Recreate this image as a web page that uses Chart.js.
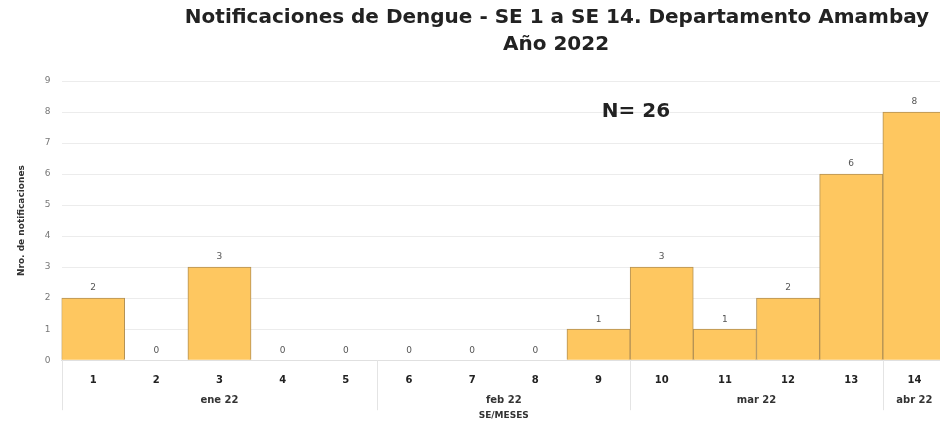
<!DOCTYPE html>
<html>
<head>
<meta charset="utf-8">
<script src="https://cdn.jsdelivr.net/npm/chart.js@4.4.0/dist/chart.umd.min.js"></script>
<style>
  html, body { margin: 0; background: #fff; overflow: hidden; }
  /* el grafico original esta recortado por la derecha */
  #wrap { width: 946px; height: 423px; position: relative; }
</style>
</head>
<body>
<div id="wrap"><canvas id="my_graph"></canvas></div>
<script>
// semanas epidemiologicas y casos
let semanas = ['1', '2', '3', '4', '5', '6', '7', '8', '9', '10', '11', '12', '13', '14'];
let casos = [2, 0, 3, 0, 0, 0, 0, 0, 1, 3, 1, 2, 6, 8];
// meses: etiqueta, primera y ultima semana (indice)
let meses = ['ene 22', 'feb 22', 'mar 22', 'abr 22'];
let mes_desde = [0, 5, 9, 13];
let mes_hasta = [4, 8, 12, 13];
let y_ticks = [0, 1, 2, 3, 4, 5, 6, 7, 8, 9];

let titulo = ['Notificaciones de Dengue - SE 1 a SE 14. Departamento Amambay', 'Año 2022'];
let total_txt = 'N= 26';

const FONT = "'DejaVu Sans', Verdana, sans-serif";

// titulo y N= dibujados a mano (el titulo no esta centrado en el canvas)
const textos = {
    id: 'textos',
    afterDraw(chart) {
        const c = chart.ctx;
        c.save();
        c.fillStyle = '#222';
        c.textAlign = 'center';
        c.textBaseline = 'middle';
        c.font = 'bold 20px ' + FONT;
        c.fillText(titulo[0], 557, 18);
        c.fillText(titulo[1], 556, 45);
        c.font = 'bold 20px ' + FONT;
        c.fillText(total_txt, 636, 112);
        c.restore();
    }
};

// etiquetas de valores sobre las barras
const valores = {
    id: 'valores',
    afterDatasetsDraw(chart) {
        const c = chart.ctx;
        const meta = chart.getDatasetMeta(0);
        c.save();
        c.fillStyle = '#555';
        c.font = '9px ' + FONT;
        c.textAlign = 'center';
        c.textBaseline = 'middle';
        meta.data.forEach((bar, i) => {
            c.fillText(String(casos[i]), bar.x, bar.y - 10);
        });
        c.restore();
    }
};

// fila de meses y separadores bajo el eje x
const fila_meses = {
    id: 'fila_meses',
    afterDraw(chart) {
        const c = chart.ctx;
        const x = chart.scales.x;
        const bottom = chart.chartArea.bottom;
        c.save();
        c.strokeStyle = '#e4e4e4';
        c.lineWidth = 1;
        mes_desde.forEach((d) => {
            let px = Math.round(x.getPixelForValue(d - 0.5)) + 0.5;
            c.beginPath();
            c.moveTo(px, bottom);
            c.lineTo(px, bottom + 50);
            c.stroke();
        });
        c.fillStyle = '#333';
        c.font = 'bold 10px ' + FONT;
        c.textAlign = 'center';
        c.textBaseline = 'middle';
        meses.forEach((m, i) => {
            let px = (x.getPixelForValue(mes_desde[i]) + x.getPixelForValue(mes_hasta[i])) / 2;
            c.fillText(m, px, bottom + 40);
        });
        c.restore();
    }
};

var ctx = document.getElementById('my_graph').getContext('2d');
var my_graph = new Chart(ctx, {
    type: 'bar',
    data: {
        labels: semanas,
        datasets: [{
            label: 'Notificaciones',
            data: casos,
            backgroundColor: '#fec760',
            borderColor: '#b39155',
            borderWidth: 1,
            barPercentage: 1,
            categoryPercentage: 1
        }]
    },
    plugins: [textos, valores, fila_meses],
    options: {
        responsive: true,
        maintainAspectRatio: false,
        animation: false,
        layout: {
            padding: { top: 81, left: 16, right: 0, bottom: 0 }
        },
        plugins: {
            legend: { display: false },
            tooltip: { enabled: false }
        },
        scales: {
            x: {
                grid: { display: false },
                border: { color: '#e0e0e0' },
                ticks: {
                    color: '#222',
                    font: { family: FONT, size: 10, weight: 'bold' },
                    padding: 6
                },
                title: {
                    display: true,
                    text: 'SE/MESES',
                    color: '#333',
                    font: { family: FONT, size: 9, weight: 'bold' },
                    padding: { top: 18, bottom: 2 }
                }
            },
            y: {
                min: 0,
                max: 9,
                afterBuildTicks: (axis) => { axis.ticks = y_ticks.map(v => ({ value: v })); },
                grid: { color: '#ececec', drawTicks: false },
                border: { display: false },
                ticks: {
                    color: '#777',
                    font: { family: FONT, size: 9 },
                    padding: 11
                },
                title: {
                    display: true,
                    text: 'Nro. de notificaciones',
                    color: '#333',
                    font: { family: FONT, size: 9, weight: 'bold' },
                    padding: { top: 0, bottom: 7 }
                }
            }
        }
    }
});
</script>
</body>
</html>
